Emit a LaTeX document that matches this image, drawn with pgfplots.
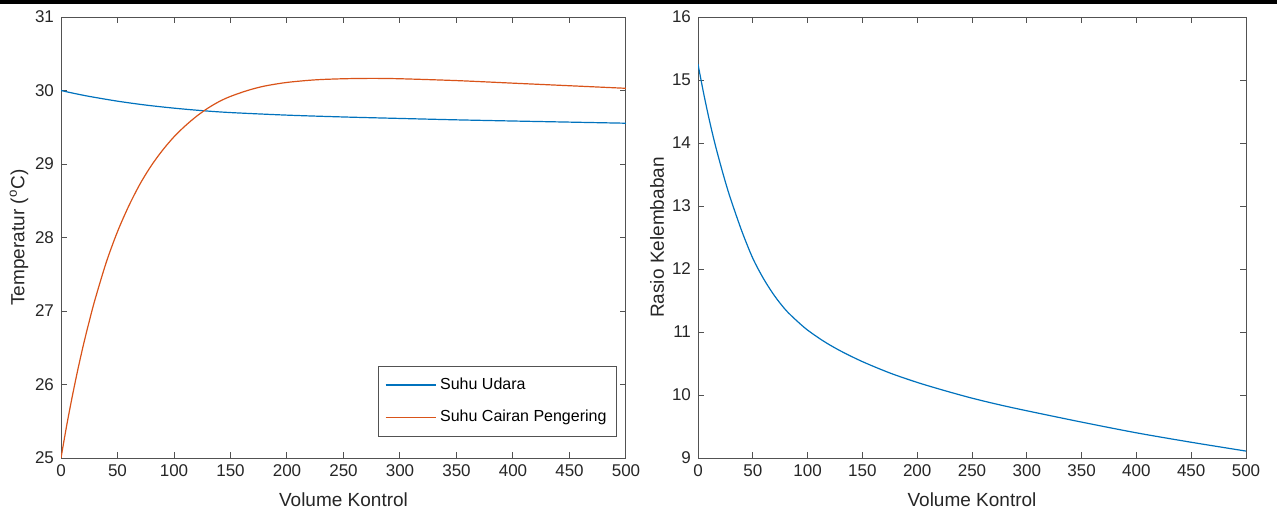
\documentclass[border=0pt]{standalone}
\usepackage{pgfplots}
\pgfplotsset{compat=1.18}
\usepackage{fontspec}
\setmainfont{Liberation Sans}

\definecolor{mblue}{rgb}{0,0.447,0.741}
\definecolor{morange}{rgb}{0.85,0.325,0.098}
\definecolor{axgray}{rgb}{0.15,0.15,0.15}

\pgfplotsset{
  mataxis/.style={
    scale only axis,
    anchor=south west,
    height=220.5pt,
    xmin=0, xmax=500,
    xtick={0,50,...,500},
    tick align=inside,
    major tick length=3pt,
    axis line style={axgray!80, line width=0.5pt},
    every tick/.style={axgray!80, line width=0.5pt},
    tick label style={font=\fontsize{8.5}{10}\selectfont, text=axgray},
    label style={font=\fontsize{9.5}{11}\selectfont, text=axgray},
    /pgf/number format/assume math mode=true,
    xlabel={Volume Kontrol},
    xlabel style={at={(axis description cs:0.5,0)}, anchor=center, yshift=-21pt},
    clip=true,
  },
}

\begin{document}
\begin{tikzpicture}
\path[use as bounding box] (0,0) rectangle (638.5pt,258pt);
\fill[black] (0,256pt) rectangle (638.5pt,258pt);

% left panel: temperatures
\begin{axis}[
  mataxis,
  at={(30.5pt,29pt)},
  width=282.5pt,
  ymin=25, ymax=31,
  ytick={25,26,...,31},
  ylabel={Temperatur (\textsuperscript{o}C)},
  ylabel style={at={(axis description cs:-0.0743,0.5)}, anchor=center, rotate=0},
  legend style={
    at={(axis description cs:1,0)}, anchor=south east,
    xshift=-4.5pt, yshift=10.5pt,
    draw=axgray!80, line width=0.5pt, fill=white,
    font=\fontsize{8}{9.6}\selectfont,
    inner xsep=3pt, inner ysep=3.8pt,
    row sep=5pt,
    cells={anchor=west},
  },
  legend image code/.code={\draw[#1] (0pt,0pt) -- (25pt,0pt);},
]
\addplot[mblue, line width=0.6pt, smooth] coordinates {
  (0,30.000) (10,29.966) (25,29.920) (50,29.855) (75,29.802) (100,29.760)
  (125,29.726) (150,29.700) (200,29.665) (250,29.640) (300,29.620)
  (350,29.601) (400,29.585) (450,29.570) (500,29.555)
};
\addlegendentry{Suhu Udara}
\addplot[morange, line width=0.6pt, smooth] coordinates {
  (0,25.00) (5,25.44) (10,25.84) (15,26.21) (20,26.55) (25,26.86)
  (30,27.15) (40,27.66) (50,28.08) (60,28.43) (70,28.73) (80,28.98)
  (90,29.19) (100,29.37) (110,29.52) (120,29.65) (130,29.76)
  (140,29.85) (150,29.92) (165,30.00) (180,30.06) (200,30.11)
  (225,30.145) (250,30.160) (275,30.165) (300,30.160) (350,30.135)
  (400,30.100) (450,30.065) (500,30.030)
};
\addlegendentry{Suhu Cairan Pengering}
\end{axis}

% right panel: humidity ratio
\begin{axis}[
  mataxis,
  at={(349pt,29pt)},
  width=274pt,
  ymin=9, ymax=16,
  ytick={9,10,...,16},
  ylabel={Rasio Kelembaban},
  ylabel style={at={(axis description cs:-0.0748,0.5)}, anchor=center, rotate=0},
]
\addplot[mblue, line width=0.6pt, smooth] coordinates {
  (0,15.25) (5,14.80) (10,14.39) (15,14.02) (20,13.69) (25,13.38)
  (30,13.10) (40,12.60) (50,12.17) (60,11.84) (70,11.57) (80,11.35)
  (90,11.18) (100,11.03) (115,10.85) (130,10.70) (150,10.53)
  (175,10.35) (200,10.20) (225,10.07) (250,9.95) (275,9.845)
  (300,9.75) (350,9.57) (400,9.40) (450,9.25) (500,9.11)
};
\end{axis}
\end{tikzpicture}
\end{document}
